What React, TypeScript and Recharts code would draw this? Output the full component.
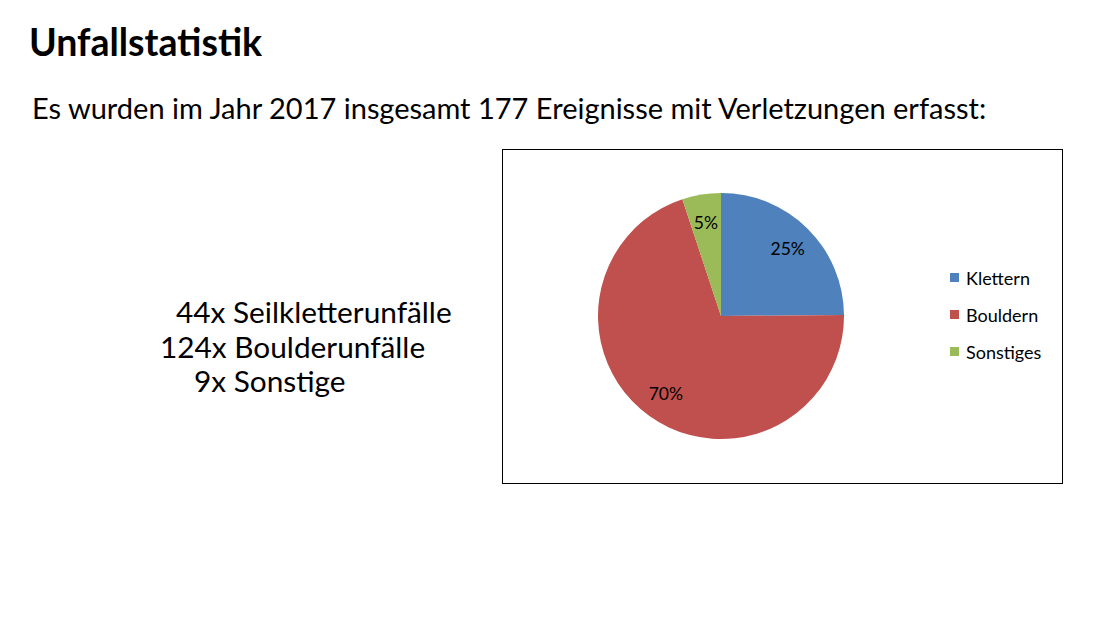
import { PieChart, Pie, Cell } from 'recharts';

const CATEGORIES = ['Klettern', 'Bouldern', 'Sonstiges'];
const COUNTS = [44, 124, 9];
const COLORS = ['#4f81bd', '#c0504d', '#9bbb59'];
const SUMMARY = ['44x Seilkletterunfälle', '124x Boulderunfälle', '9x Sonstige'];
const SUMMARY_INDENT = [16, 0, 34];

const TOTAL = COUNTS.reduce((a, b) => a + b, 0);
const data = CATEGORIES.map((name, i) => ({ name, value: COUNTS[i], color: COLORS[i] }));

const RAD = Math.PI / 180;

function renderLabel(props: any) {
  const { cx, cy, midAngle, outerRadius, value } = props;
  const r = outerRadius * 0.77;
  const x = cx + r * Math.cos(-midAngle * RAD);
  const y = cy + r * Math.sin(-midAngle * RAD);
  return (
    <text x={x} y={y} textAnchor="middle" dominantBaseline="central" fontSize={17.5} fill="#000" fontFamily="Lato, 'Open Sans', sans-serif">
      {Math.round((value / TOTAL) * 100)}%
    </text>
  );
}

export default function App() {
  const font = "Lato, 'Open Sans', sans-serif";
  return (
    <div style={{ position: 'absolute', left: 0, top: 0, width: 1100, height: 619, background: '#fff', fontFamily: font, color: '#000' }}>
      <div style={{ position: 'absolute', left: 29, top: 19, fontSize: 37.5, fontWeight: 700 }}>Unfallstatistik</div>
      <div style={{ position: 'absolute', left: 32, top: 90, fontSize: 29 }}>
        Es wurden im Jahr 2017 insgesamt 177 Ereignisse mit Verletzungen erfasst:
      </div>
      <div style={{ position: 'absolute', left: 160, top: 295, fontSize: 29.8, lineHeight: '34.5px' }}>
        {SUMMARY.map((s, i) => (
          <div key={i} style={{ paddingLeft: SUMMARY_INDENT[i] }}>{s}</div>
        ))}
      </div>
      <div style={{ position: 'absolute', left: 502, top: 149, width: 559, height: 333, border: '1.5px solid #000' }}>
        <PieChart width={559} height={333}>
          <Pie
            data={data}
            dataKey="value"
            cx={213}
            cy={161}
            outerRadius={123}
            startAngle={90}
            endAngle={-270}
            stroke="none"
            label={renderLabel}
            labelLine={false}
            isAnimationActive={false}
          >
            {data.map((d, i) => (
              <Cell key={i} fill={d.color} />
            ))}
          </Pie>
        </PieChart>
        <div style={{ position: 'absolute', left: 447, top: 109, fontSize: 18, fontFamily: font }}>
          {data.map((d, i) => (
            <div key={i} style={{ display: 'flex', alignItems: 'center', height: 37 }}>
              <span style={{ width: 9, height: 9, background: d.color, marginRight: 7, display: 'inline-block' }} />
              {d.name}
            </div>
          ))}
        </div>
      </div>
    </div>
  );
}
